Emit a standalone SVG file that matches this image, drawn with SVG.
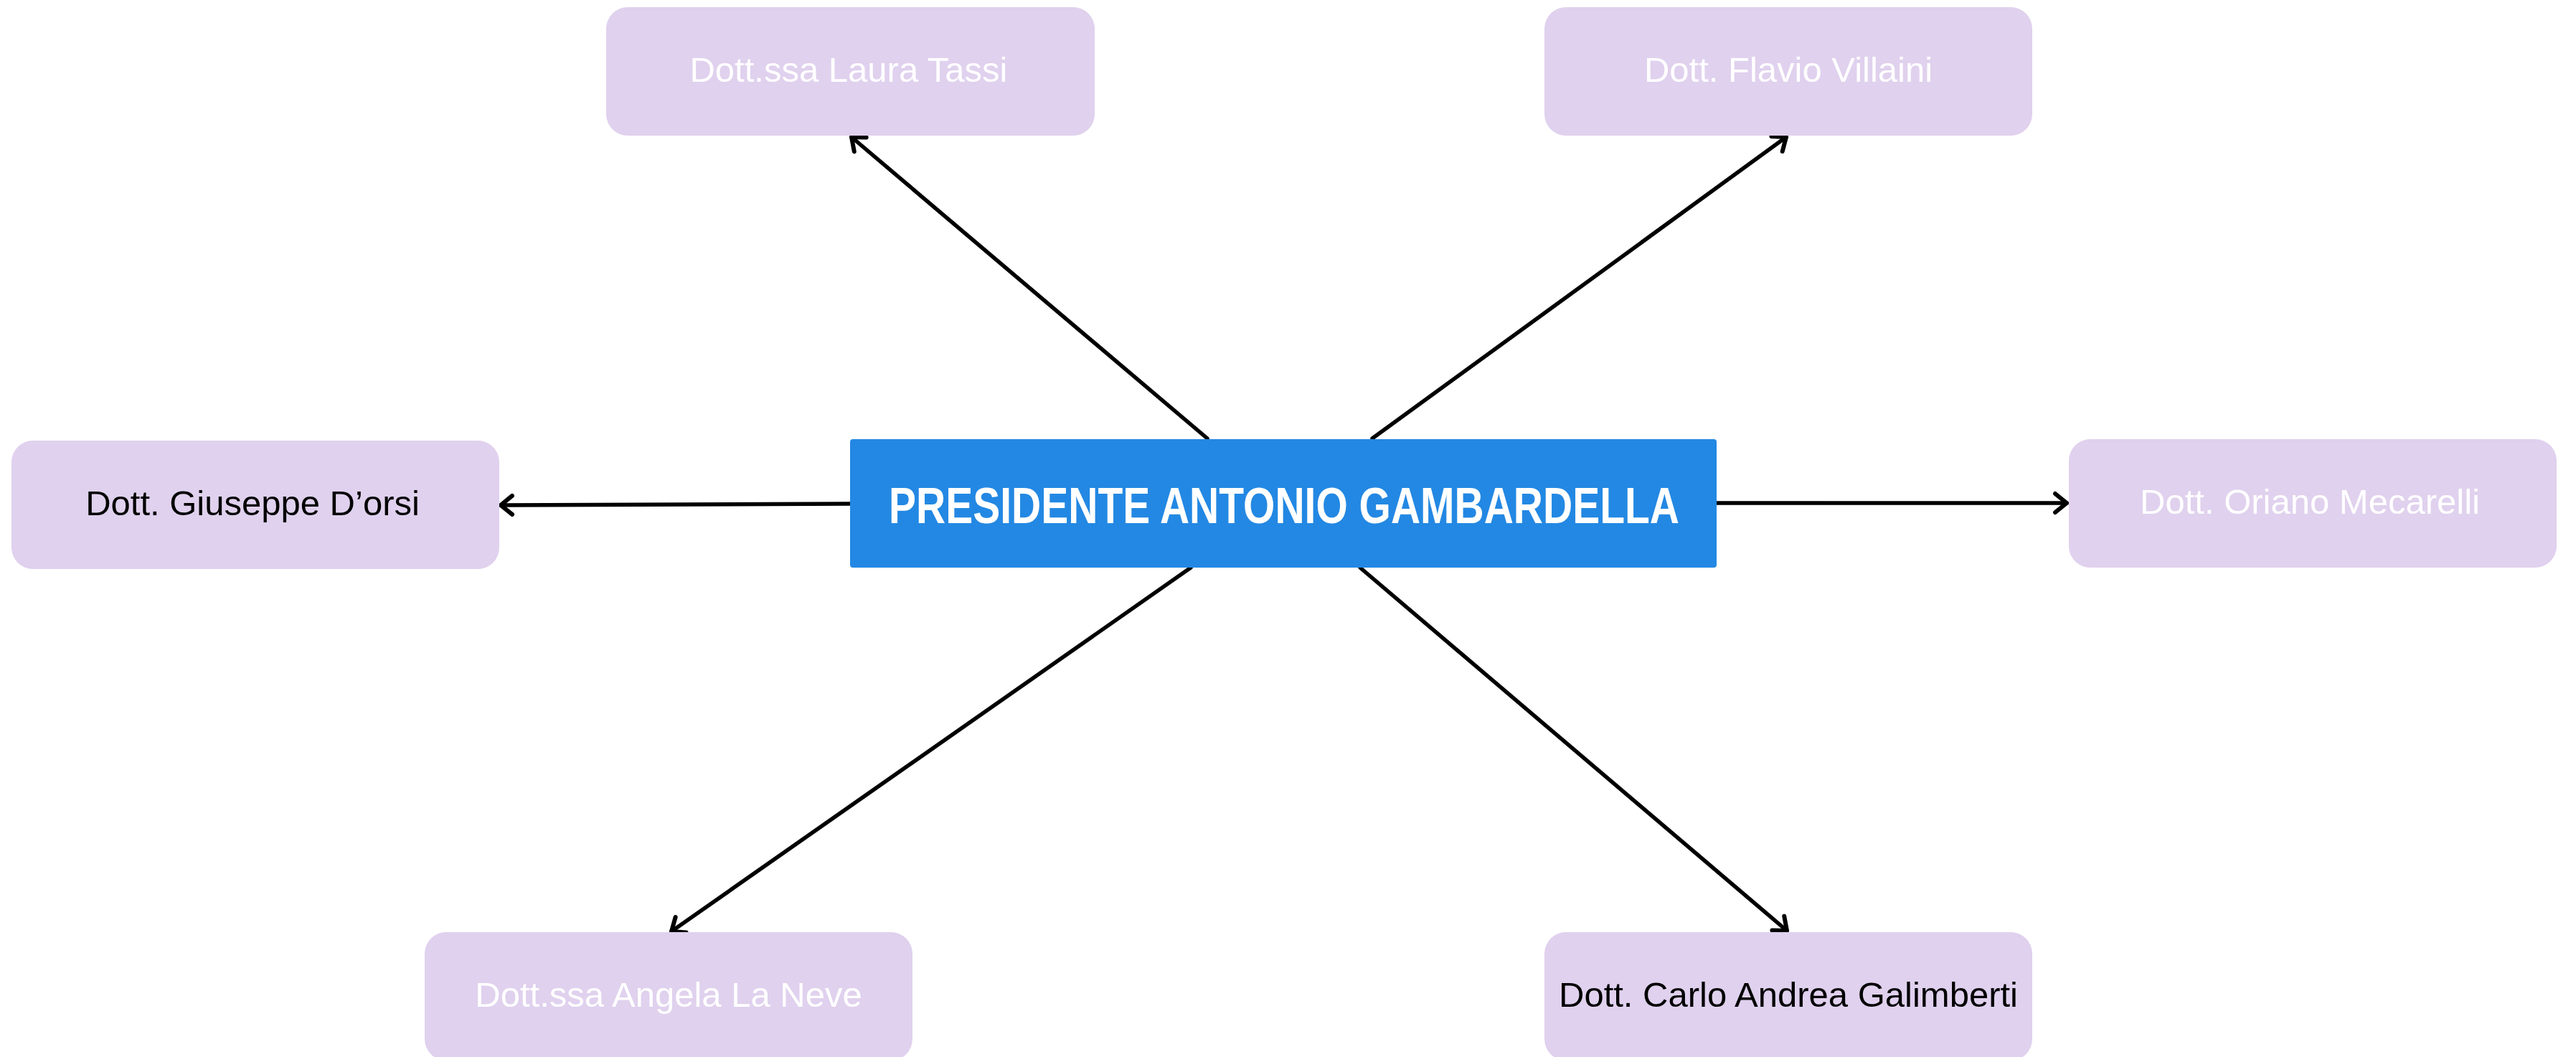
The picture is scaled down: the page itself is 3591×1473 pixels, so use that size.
<svg xmlns="http://www.w3.org/2000/svg" width="3591" height="1473" viewBox="0 0 3591 1473">
<style>
.box{fill:#E0D1EE;}
.main{fill:#2388E3;}
.lbl{font-family:"Liberation Sans",Arial,sans-serif;font-size:49px;text-anchor:middle;}
.w{fill:#FFFFFF;}
.k{fill:#000000;}
.title{font-family:"Liberation Sans",Arial,sans-serif;font-weight:bold;font-size:71px;fill:#FFFFFF;text-anchor:middle;}
.conn{stroke:#000;stroke-width:5.5;fill:none;stroke-linecap:round;marker-end:url(#arr);}
</style>
<defs>
<marker id="arr" markerUnits="userSpaceOnUse" viewBox="-25 -20 30 40" refX="0" refY="0" markerWidth="30" markerHeight="40" orient="auto">
<path d="M -16 -13 L 0 0 L -16 13" fill="none" stroke="#000" stroke-width="6" stroke-linecap="round" stroke-linejoin="round"/>
</marker>
</defs>
<rect width="3591" height="1473" fill="#FFFFFF"/>
<g id="connectors">
<line class="conn" x1="1683" y1="611" x2="1187" y2="191"/>
<line class="conn" x1="1913" y1="611" x2="2490" y2="191"/>
<line class="conn" x1="1185" y1="702" x2="698" y2="704"/>
<line class="conn" x1="2393" y1="701" x2="2881" y2="701"/>
<line class="conn" x1="1660" y1="791" x2="936" y2="1298"/>
<line class="conn" x1="1896" y1="791" x2="2491" y2="1297"/>
</g>
<g id="node-main">
<rect class="main" x="1185" y="612" width="1208" height="179" rx="4"/>
<text class="title" x="1790" y="729" textLength="1102" lengthAdjust="spacingAndGlyphs">PRESIDENTE ANTONIO GAMBARDELLA</text>
</g>
<g id="node-tassi">
<rect class="box" x="845" y="10" width="681" height="179" rx="30"/>
<text class="lbl w" x="1183" y="114">Dott.ssa Laura Tassi</text>
</g>
<g id="node-villaini">
<rect class="box" x="2153" y="10" width="680" height="179" rx="30"/>
<text class="lbl w" x="2493" y="114">Dott. Flavio Villaini</text>
</g>
<g id="node-dorsi">
<rect class="box" x="16" y="614" width="680" height="179" rx="30"/>
<text class="lbl k" x="352" y="718">Dott. Giuseppe D’orsi</text>
</g>
<g id="node-mecarelli">
<rect class="box" x="2884" y="612" width="680" height="179" rx="30"/>
<text class="lbl w" x="3220" y="716">Dott. Oriano Mecarelli</text>
</g>
<g id="node-laneve">
<rect class="box" x="592" y="1299" width="680" height="179" rx="30"/>
<text class="lbl w" x="932" y="1403">Dott.ssa Angela La Neve</text>
</g>
<g id="node-galimberti">
<rect class="box" x="2153" y="1299" width="680" height="179" rx="30"/>
<text class="lbl k" x="2493" y="1403">Dott. Carlo Andrea Galimberti</text>
</g>
</svg>
